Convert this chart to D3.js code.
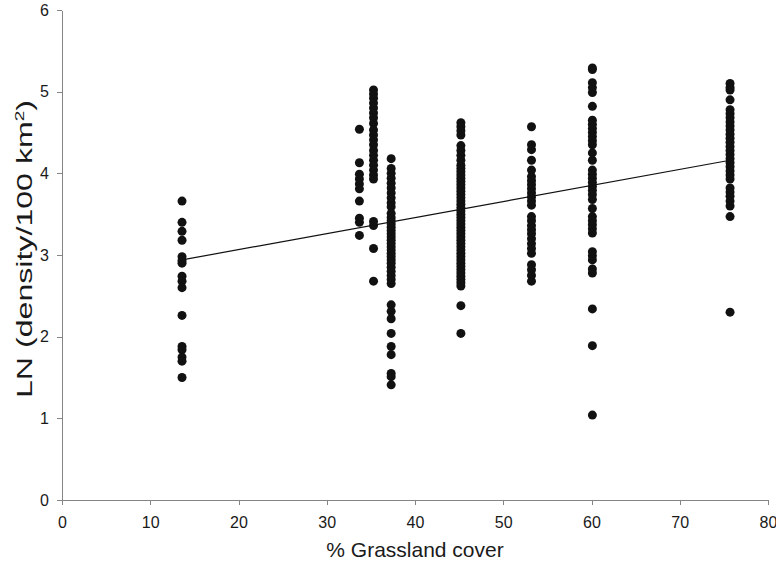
<!DOCTYPE html>
<html>
<head>
<meta charset="utf-8">
<script src="https://cdn.jsdelivr.net/npm/d3@7"></script>
<style>
  body { margin: 0; background: #fff; }
  svg { display: block; font-family: "Liberation Sans", Arial, sans-serif; }
  .axis path, .axis line { stroke: #858585; stroke-width: 1; shape-rendering: crispEdges; }
  .axis text { fill: #1a1a1a; font-size: 16px; }
</style>
</head>
<body>
<div id="chart"></div>
<script>
// column positions (% grassland cover) and the LN density values read for each one
var coverX = [13.6, 33.7, 35.3, 37.3, 45.2, 53.2, 60.1, 75.7];

var col14 = [3.66, 3.40, 3.29, 3.18, 2.98, 2.93, 2.90, 2.74, 2.68, 2.60, 2.26, 1.88, 1.84, 1.75, 1.70, 1.50];
var col34 = [4.54, 4.13, 3.99, 3.93, 3.87, 3.81, 3.66, 3.45, 3.40, 3.24];
var col35 = [5.02, 4.97, 4.92, 4.86, 4.80, 4.74, 4.68, 4.61, 4.53, 4.47, 4.41, 4.35, 4.28, 4.22, 4.16, 4.10,
             4.04, 3.98, 3.93, 3.41, 3.36, 3.08, 2.68];
var col37 = [4.18, 4.06, 4.00, 3.94, 3.88, 3.82, 3.76, 3.70, 3.64, 3.59, 3.51, 3.46, 3.42, 3.38, 3.34, 3.30,
             3.26, 3.22, 3.18, 3.14, 3.10, 3.06, 3.02, 2.98, 2.94, 2.90, 2.85, 2.80, 2.75, 2.70, 2.65,
             2.39, 2.31, 2.22, 2.04, 1.88, 1.78, 1.55, 1.51, 1.41];
var col45 = [4.62, 4.57, 4.52, 4.47, 4.34, 4.28, 4.22, 4.16, 4.10, 4.06, 4.02, 3.98, 3.94, 3.90, 3.86, 3.82,
             3.78, 3.74, 3.70, 3.66, 3.62, 3.58, 3.54, 3.50, 3.46, 3.42, 3.38, 3.34, 3.30, 3.26, 3.22,
             3.18, 3.14, 3.10, 3.06, 3.02, 2.98, 2.94, 2.90, 2.86, 2.82, 2.78, 2.74, 2.70, 2.66, 2.62,
             2.38, 2.04];
var col53 = [4.57, 4.35, 4.29, 4.16, 4.04, 3.96, 3.91, 3.86, 3.81, 3.76, 3.71, 3.66, 3.61, 3.47, 3.42, 3.36,
             3.31, 3.26, 3.20, 3.14, 3.08, 3.02, 2.88, 2.82, 2.75, 2.68];
var col60 = [5.29, 5.27, 5.11, 5.05, 4.99, 4.82, 4.65, 4.60, 4.55, 4.50, 4.45, 4.40, 4.35, 4.25, 4.16, 4.04,
             3.99, 3.94, 3.89, 3.84, 3.79, 3.74, 3.68, 3.57, 3.47, 3.42, 3.37, 3.32, 3.27, 3.04, 2.99,
             2.94, 2.83, 2.78, 2.34, 1.89, 1.04];
var col76 = [5.10, 5.05, 5.02, 4.90, 4.78, 4.73, 4.68, 4.63, 4.58, 4.53, 4.48, 4.43, 4.38, 4.33, 4.28, 4.23,
             4.18, 4.13, 4.08, 4.03, 3.98, 3.93, 3.82, 3.77, 3.72, 3.66, 3.60, 3.47, 2.30];

var columns = [col14, col34, col35, col37, col45, col53, col60, col76];

// fitted trend line end points
var trendX = [13.6, 75.7];
var trendY = [2.94, 4.16];

var xTicks = [0, 10, 20, 30, 40, 50, 60, 70, 80];
var yTicks = [0, 1, 2, 3, 4, 5, 6];

var width = 776, height = 565;
var margin = {top: 10, right: 8, bottom: 65, left: 62};

var svg = d3.select("#chart")
  .append("svg")
    .attr("width", width)
    .attr("height", height);

var x = d3.scaleLinear()
    .domain([0, 80])
    .range([margin.left, width - margin.right]);

var y = d3.scaleLinear()
    .domain([0, 6])
    .range([height - margin.bottom, margin.top]);

// axes
svg.append("g")
    .attr("class", "axis")
    .attr("transform", "translate(0," + y(0) + ")")
    .call(d3.axisBottom(x).tickValues(xTicks).tickFormat(d3.format("d"))
        .tickSize(5).tickSizeOuter(0).tickPadding(12));

svg.append("g")
    .attr("class", "axis")
    .attr("transform", "translate(" + x(0) + ",0)")
    .call(d3.axisLeft(y).tickValues(yTicks).tickFormat(d3.format("d"))
        .tickSize(5).tickSizeOuter(0).tickPadding(8));

// points
var points = [];
columns.forEach(function(vals, i) {
    vals.forEach(function(v) { points.push({x: coverX[i], y: v}); });
});

svg.append("g")
  .selectAll("circle")
  .data(points)
  .enter()
  .append("circle")
    .attr("cx", function(d) { return x(d.x); })
    .attr("cy", function(d) { return y(d.y); })
    .attr("r", 4.5)
    .style("fill", "#111");

// trend line
var line = d3.line()
    .x(function(d) { return x(d[0]); })
    .y(function(d) { return y(d[1]); });

svg.append("path")
    .datum(d3.zip(trendX, trendY))
    .attr("d", line)
    .style("fill", "none")
    .style("stroke", "#111")
    .style("stroke-width", 1.2);

// axis titles
svg.append("text")
    .attr("x", (x(0) + x(80)) / 2)
    .attr("y", 557)
    .attr("text-anchor", "middle")
    .style("font-size", "21px")
    .style("fill", "#1a1a1a")
    .text("% Grassland cover");

var yTitle = svg.append("text")
    .attr("transform", "translate(32," + 249 + ") rotate(-90)")
    .attr("text-anchor", "middle")
    .attr("textLength", 298)
    .attr("lengthAdjust", "spacingAndGlyphs")
    .style("font-size", "22px")
    .style("fill", "#1a1a1a");
yTitle.append("tspan").text("LN (density/100 km");
yTitle.append("tspan").attr("dy", -8).style("font-size", "13px").text("2");
yTitle.append("tspan").attr("dy", 8).text(")");
</script>
</body>
</html>
